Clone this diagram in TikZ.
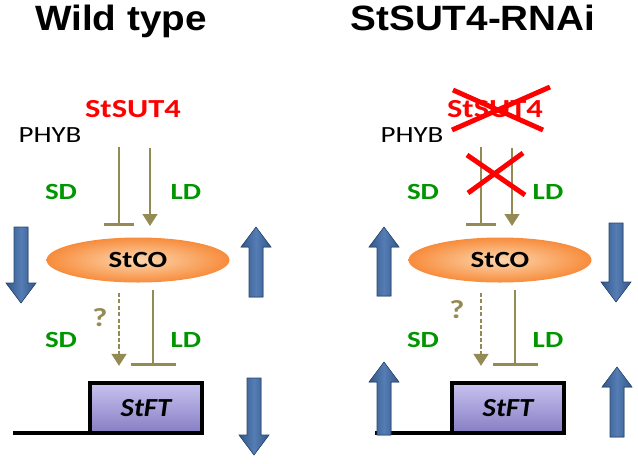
\documentclass[tikz,border=0pt]{standalone}
\usepackage{fontspec}
\setmainfont{Carlito}
\newfontfamily\lblfont[FakeStretch=1.25]{Carlito}
\newfontfamily\ftfont[FakeStretch=1.1]{Carlito}
\newfontfamily\ttlfont[FakeStretch=1.1]{Liberation Sans}
\usepackage{tikz}
\usetikzlibrary{arrows.meta, shapes.geometric}
\definecolor{linkolive}{RGB}{148,138,84}
\definecolor{sdgreen}{RGB}{0,150,0}
\definecolor{arrblue}{RGB}{50,88,138}
\definecolor{arrlight}{RGB}{85,125,180}
\definecolor{coout}{RGB}{247,140,60}
\definecolor{coin}{RGB}{253,215,175}
\definecolor{fttop}{RGB}{200,195,240}
\definecolor{ftbot}{RGB}{135,125,195}
\newcommand{\px}{0.025cm}
\tikzstyle{lbl}=[font=\lblfont\bfseries\fontsize{16.5}{18}\selectfont, inner sep=0pt, anchor=base]
\tikzstyle{daylbl}=[lbl, text=sdgreen]
\tikzstyle{ttl}=[font=\ttlfont\bfseries\fontsize{25}{30}\selectfont, inner sep=0pt, anchor=base]
\tikzstyle{link}=[draw=linkolive, line width=1.5pt]
\tikzstyle{act}=[link, -{Triangle[width=10.5pt, length=8.5pt]}]
\tikzstyle{inh}=[link, -{Bar[width=22pt, line width=2.2pt]}]
\tikzstyle{inhwide}=[link, -{Bar[width=32pt, line width=2.2pt]}]
\tikzstyle{costyle}=[ellipse, minimum width=183*\px, minimum height=45*\px, inner sep=0pt, inner color=coin, outer color=coout, font=\lblfont\bfseries\fontsize{16.5}{18}\selectfont]
\tikzstyle{ftbox}=[draw=black, line width=2.4pt, minimum width=112*\px, minimum height=50*\px, top color=fttop, middle color=fttop!60!white, bottom color=ftbot, font=\ftfont\bfseries\itshape\fontsize{18.5}{20}\selectfont]
\tikzstyle{cross}=[draw=red, line width=3.5pt]

\begin{document}
\begin{tikzpicture}[x=\px, y=-\px]
	\useasboundingbox (0,0) rectangle (638,463);
	\node[ttl] (ttlL) at (121,30) {Wild type};
	\node[ttl] (ttlR) at (473,30) {StSUT4-RNAi};
	\foreach \p/\dx/\qx/\qy in {L/0/100/326, R/362/457/318}{
		\node[lbl, text=red, font=\lblfont\bfseries\fontsize{18.5}{20}\selectfont] (sut\p) at (133+\dx,117) {StSUT4};
		\node[lbl, font=\lblfont\fontsize{16.5}{18}\selectfont] (phyb\p) at (50+\dx,142) {PHYB};
		\node[daylbl] (sdA\p) at (61+\dx,199) {SD};
		\node[daylbl] (ldA\p) at (186+\dx,199) {LD};
		\node[daylbl] (sdB\p) at (61+\dx,347) {SD};
		\node[daylbl] (ldB\p) at (186+\dx,347) {LD};
		\node[lbl, text=linkolive, font=\lblfont\bfseries\fontsize{18.5}{20}\selectfont] (q\p) at (\qx,\qy) {?};
		\node[costyle] (co\p) at (138+\dx,260) {StCO};
		\node[ftbox] (ft\p) at (146+\dx,408) {StFT};
		\coordinate (ax\p) at (119+\dx,147);
		\coordinate (bx\p) at (150+\dx,148);
		\coordinate (cx\p) at (153+\dx,290);
		\coordinate (ts\p) at (13+\dx,433);
		% gene line
		\draw[line width=2.6pt] (ts\p) -- (ts\p -| ft\p.west);
		% photoperiod control
		\draw[inh, shorten >=8pt] (ax\p) -- (ax\p |- co\p.north);
		\draw[act, shorten >=8pt] (bx\p) -- (bx\p |- co\p.north);
		\draw[act, dash pattern=on 3pt off 1.6pt, shorten <=7pt, shorten >=11pt] (ax\p |- co\p.south) -- (ax\p |- ft\p.north);
		\draw[inhwide, shorten >=11pt] (cx\p) -- (cx\p |- ft\p.north);
	}
	% expression levels
	\foreach \c/\ya/\yb in {21/227/303, 256/297/227, 254/378/455, 384/296/227, 616/223/302, 384/435/362, 617/437/367}{
		\pgfmathsetmacro{\yh}{\yb + 20*sign(\ya-\yb)}
		\filldraw[draw=arrblue!80!black, line width=0.4pt, left color=arrblue, right color=arrblue, middle color=arrlight]
			(\c-7,\ya) -- (\c+7,\ya) -- (\c+7,\yh) -- (\c+15,\yh) -- (\c,\yb) -- (\c-15,\yh) -- (\c-7,\yh) -- cycle;
	}
	% knock-down
	\draw[cross] (452,130) -- (550,87);
	\draw[cross] (453,90) -- (543,130);
	\draw[cross] (467,155) -- (525,195);
	\draw[cross] (468,193) -- (523,153);
\end{tikzpicture}
\end{document}
